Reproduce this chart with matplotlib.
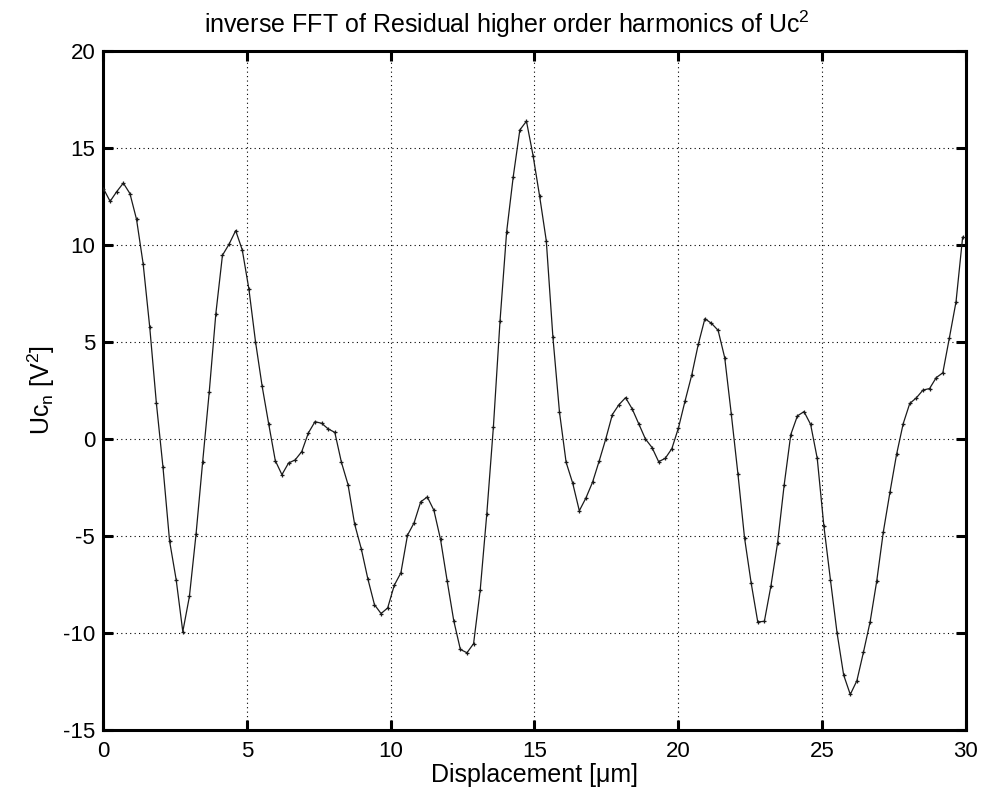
import numpy as np
import matplotlib
matplotlib.use("Agg")
import matplotlib.pyplot as plt

plt.rcParams['font.family'] = ['Liberation Sans', 'DejaVu Sans']
plt.rcParams['mathtext.fontset'] = 'custom'
plt.rcParams['mathtext.rm'] = 'Liberation Sans'
plt.rcParams['mathtext.it'] = 'Liberation Sans'
plt.rcParams['axes.unicode_minus'] = False

# sample spacing of the displacement axis [um]
step = 0.23

uc_n = [
    12.9, 12.25, 12.75, 13.19, 12.65, 11.32, 9.03, 5.75, 1.85, -1.45,
    -5.26, -7.26, -9.93, -8.12, -4.92, -1.20, 2.42, 6.46, 9.47, 10.04,
    10.74, 9.74, 7.73, 5.02, 2.73, 0.77, -1.12, -1.84, -1.24, -1.08,
    -0.65, 0.31, 0.89, 0.81, 0.52, 0.34, -1.20, -2.35, -4.39, -5.65,
    -7.21, -8.54, -9.0, -8.71, -7.54, -6.90, -4.96, -4.32, -3.24, -2.99,
    -3.68, -5.18, -7.31, -9.37, -10.85, -11.02, -10.55, -7.80, -3.86, 0.63,
    6.08, 10.67, 13.52, 15.93, 16.38, 14.61, 12.5, 10.22, 5.26, 1.38,
    -1.2, -2.28, -3.7, -3.04, -2.23, -1.14, 0.0, 1.26, 1.77, 2.13,
    1.55, 0.78, 0.0, -0.44, -1.17, -1.0, -0.5, 0.57, 1.96, 3.28,
    4.88, 6.20, 5.96, 5.60, 4.19, 1.27, -1.80, -5.10, -7.42, -9.43,
    -9.40, -7.56, -5.36, -2.36, 0.23, 1.19, 1.41, 0.75, -1.0, -4.47,
    -7.27, -10.0, -12.17, -13.17, -12.46, -10.98, -9.43, -7.33, -4.79, -2.75,
    -0.8, 0.78, 1.83, 2.12, 2.52, 2.6, 3.16, 3.41, 5.22, 7.07,
    10.4,
]
displacement = np.arange(len(uc_n)) * step

x_ticks = [0, 5, 10, 15, 20, 25, 30]
y_ticks = [-15, -10, -5, 0, 5, 10, 15, 20]

fig = plt.figure(figsize=(9.81, 7.99), dpi=100)
ax = fig.add_axes([0.1055, 0.0864, 0.8787, 0.8498])

ax.plot(displacement, uc_n, color='#1a1a1a', lw=0.9, marker='+',
        markersize=3.5, markeredgewidth=0.9, zorder=3)

ax.set_xlim(0, 30)
ax.set_ylim(-15, 20)
ax.set_xticks(x_ticks)
ax.set_yticks(y_ticks)
ax.grid(True, color='black', linestyle=(0, (1, 3)), linewidth=0.8)

for sp in ax.spines.values():
    sp.set_linewidth(2.2)
    sp.set_color('black')

ax.tick_params(direction='in', length=7, width=2.2, top=True, right=True,
               labelsize=16, pad=8, colors='black')
ax.tick_params(axis='y', pad=6)

fig.text(507 / 981, 1 - 33 / 799,
         'inverse FFT of Residual higher order harmonics of Uc$^2$',
         fontsize=18, ha='center', va='baseline')
ax.set_xlabel('Displacement [\u03bcm]', fontsize=18, labelpad=1)
ax.set_ylabel('Uc$_n$ [V$^2$]', fontsize=18, labelpad=4)

fig.savefig('out.png', dpi=100, facecolor='white')
